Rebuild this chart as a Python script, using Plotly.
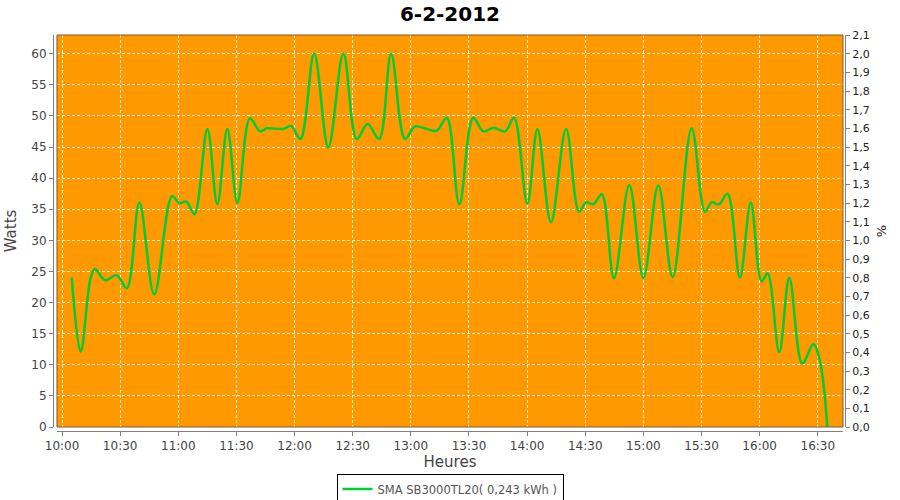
import plotly.graph_objects as go

# Time of reading (HH:MM:SS on 6-2-2012) and power in Watts
times = [
    "10:05:00", "10:09:36", "10:14:48", "10:17:00", "10:22:12", "10:28:12", "10:33:24",
    "10:39:54", "10:47:36", "10:56:48", "11:00:30", "11:04:12", "11:08:18", "11:15:00",
    "11:20:06", "11:25:18", "11:30:30", "11:37:00", "11:42:12", "11:45:36", "11:54:12",
    "11:58:12", "12:03:00", "12:10:06", "12:17:24", "12:25:12", "12:32:06", "12:37:42",
    "12:43:36", "12:49:48", "12:57:00", "13:02:06", "13:08:12", "13:13:18", "13:18:30",
    "13:25:00", "13:32:12", "13:37:24", "13:42:36", "13:48:36", "13:53:12", "14:00:06",
    "14:05:18", "14:12:18", "14:20:06", "14:26:48", "14:30:24", "14:34:12", "14:38:30",
    "14:44:48", "14:52:42", "15:00:00", "15:07:42", "15:15:06", "15:24:54", "15:31:48",
    "15:35:12", "15:39:00", "15:43:24", "15:49:48", "15:55:24", "16:01:00", "16:04:06",
    "16:10:06", "16:15:18", "16:22:00", "16:27:42", "16:31:06", "16:34:54",
]
watts = [
    24.0, 12.1, 24.0, 25.4, 23.6, 24.4, 22.3,
    36.1, 21.3, 37.1, 36.0, 36.2, 34.2, 47.9,
    35.8, 47.9, 36.0, 49.6, 47.5, 48.0, 47.9,
    48.4, 46.3, 60.0, 44.9, 60.0, 46.3, 48.7,
    46.3, 60.0, 46.3, 48.3, 47.9, 47.6, 49.7,
    35.8, 49.7, 47.5, 48.1, 47.5, 49.7, 35.9,
    47.9, 32.9, 47.9, 34.6, 36.1, 35.8, 37.4,
    23.9, 38.9, 24.0, 38.8, 24.1, 48.0, 34.6,
    36.1, 35.8, 37.5, 24.0, 36.1, 23.4, 24.7,
    12.0, 24.0, 10.2, 13.3, 10.6, 0.0,
]
date = "2012-02-06"
series_name = "SMA SB3000TL20( 0,243 kWh )"
title_text = "6-2-2012"

x = [f"{date} {t}" for t in times]

ORANGE = "#FF9900"
GREEN = "#00CC33"
AXIS = "#808080"
TXT = "#444444"
FONT = "DejaVu Sans"

fig = go.Figure()
fig.add_trace(go.Scatter(
    x=x, y=watts, mode="lines", name=series_name,
    line=dict(color=GREEN, width=2.5, shape="spline", smoothing=1.0),
    xaxis="x", yaxis="y",
))
# trace bound to the right (%) axis so it is drawn
fig.add_trace(go.Scatter(x=[x[0]], y=[None], mode="lines", showlegend=False,
                         hoverinfo="skip", xaxis="x", yaxis="y2"))

grid = dict(showgrid=True, gridcolor="rgba(255,255,255,0.85)", gridwidth=1, griddash="3px,2px")

fig.update_layout(
    width=900, height=500,
    margin=dict(l=40, r=40, t=35, b=60, autoexpand=False),
    paper_bgcolor="white",
    plot_bgcolor=ORANGE,
    separators=", ",
    font=dict(family=FONT, size=12, color=TXT),
    title=dict(text=f"<b>{title_text}</b>", x=0.5, xanchor="center", y=0.972, yanchor="middle",
               font=dict(family=FONT, size=20, color="black")),
    showlegend=True,
    legend=dict(orientation="h", x=0.5, xanchor="center", y=-0.083, yanchor="top",
                bordercolor="black", borderwidth=1, bgcolor="white", itemwidth=30,
                tracegroupgap=0, font=dict(family=FONT, size=11.5, color="#555555")),
    xaxis=dict(
        domain=[0.02073, 0.97927], anchor="free", position=0.0222, automargin=False,
        type="date", range=[f"{date} 09:57:24", f"{date} 16:43:00"],
        tick0=f"{date} 10:00:00", dtick=1800000, tickformat="%H:%M",
        showline=True, linecolor=AXIS, linewidth=1,
        ticks="outside", ticklen=4, tickcolor=AXIS,
        tickfont=dict(size=12, color=TXT),
        title=dict(text="Heures", font=dict(size=15, color=TXT), standoff=4),
        zeroline=False, **grid,
    ),
    yaxis=dict(
        domain=[0.0321, 1.0], anchor="free", position=0.01585, automargin=False,
        range=[0, 63], dtick=5, tick0=0,
        showline=True, linecolor=AXIS, linewidth=1,
        ticks="outside", ticklen=4, tickcolor=AXIS,
        tickfont=dict(size=12, color=TXT),
        title=dict(text="Watts", font=dict(size=15, color=TXT), standoff=10),
        zeroline=False, **grid,
    ),
    yaxis2=dict(
        overlaying="y", side="right", anchor="free", position=0.9817, automargin=False,
        range=[0, 2.1], dtick=0.1, tick0=0, tickformat=".1f",
        showline=True, linecolor=AXIS, linewidth=1,
        ticks="outside", ticklen=4, tickcolor=AXIS,
        tickfont=dict(size=11, color="#222222"),
        title=dict(text="%", font=dict(size=13, color="#222222"), standoff=8),
        showgrid=False, zeroline=False,
    ),
)

fig.add_shape(type="rect", xref="x domain", yref="y domain", x0=0, x1=1, y0=0, y1=1,
              line=dict(color="#7a5a30", width=1), fillcolor="rgba(0,0,0,0)", layer="above")

fig.write_html(
    "out.html",
    config={"displayModeBar": False},
    post_script="document.body.style.margin='0';document.body.style.overflow='hidden';",
)
